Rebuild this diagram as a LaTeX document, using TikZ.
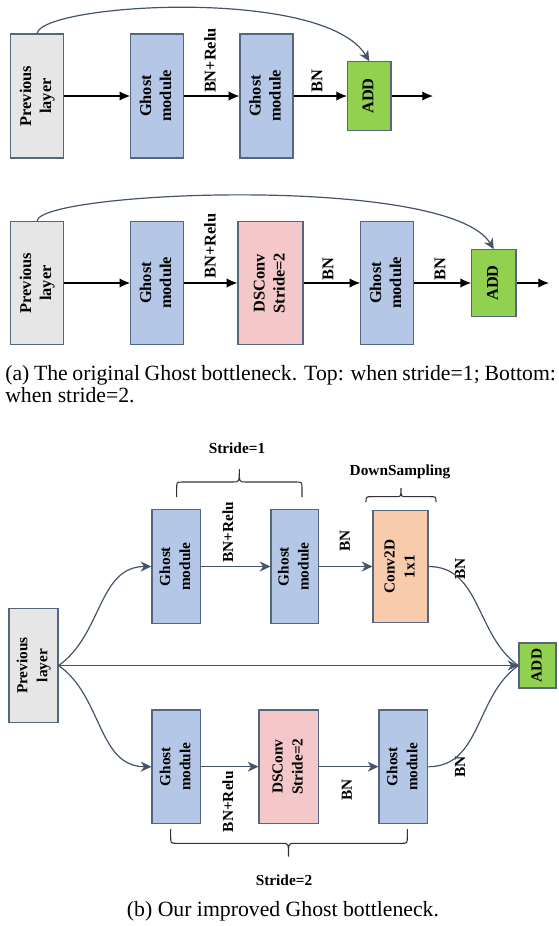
\documentclass[tikz,border=0pt]{standalone}
\usepackage{fontspec}
\usepackage{graphicx}
\setmainfont{Liberation Serif}
\usetikzlibrary{arrows.meta}
\definecolor{slate}{HTML}{44546A}
\definecolor{bordc}{HTML}{56667E}
\definecolor{grayf}{HTML}{E7E6E6}
\definecolor{ghostf}{HTML}{B4C7E7}
\definecolor{addf}{HTML}{92D050}
\definecolor{dsf}{HTML}{F4C7C9}
\definecolor{convf}{HTML}{F8CBAD}
\newcommand\fa{\fontsize{12.3}{15}\selectfont\bfseries}
\newcommand\fb{\fontsize{11.5}{15}\selectfont\bfseries}
\newcommand\fcap{\fontsize{16.3}{19}\selectfont}
\newcommand\vt[1]{\rotatebox{90}{\begin{tabular}{@{}c@{}}#1\end{tabular}}}
\tikzset{
  box/.style={draw=bordc, line width=0.9pt, inner sep=0pt},
  prevbox/.style={box, fill=grayf},
  ghostbox/.style={box, fill=ghostf},
  addbox/.style={box, fill=addf},
  dsbox/.style={box, fill=dsf},
  convbox/.style={box, fill=convf},
  lab/.style={rotate=90, inner sep=0pt},
  plain/.style={inner sep=0pt},
  arA/.style={draw=black, line width=0.9pt, -{Latex[length=8pt,width=7pt]}},
  arS/.style={draw=slate, line width=0.9pt, -{Stealth[length=8pt,width=7.5pt,inset=2.5pt]}},
  ln/.style={draw=slate, line width=0.9pt},
  brc/.style={draw=black!80, line width=0.8pt}
}
\begin{document}
\begin{tikzpicture}[x=0.75pt,y=-0.75pt]
\useasboundingbox (0,0) rectangle (559,926);

% ---------------- (a) top ----------------
\begin{scope}[font=\fa]
\node[prevbox, minimum width=39.6pt, minimum height=93pt] (p1) at (37.1,96) {\vt{Previous\\layer}};
\node[ghostbox, minimum width=39.6pt, minimum height=93pt] (g1) at (157.2,96) {\vt{Ghost\\module}};
\node[ghostbox, minimum width=39.75pt, minimum height=93pt] (g2) at (266.5,96) {\vt{Ghost\\module}};
\node[addbox, minimum width=32.55pt, minimum height=51.2pt] (add1) at (369.3,96) {\vt{ADD}};
\coordinate (out1) at (433,96);
\node[lab] (l1) at (210,60.5) {BN+Relu};
\node[lab] (l2) at (317,81) {BN};
\draw[arA] (p1.east) -- (g1.west);
\draw[arA] (g1.east) -- (g2.west);
\draw[arA] (g2.east) -- (add1.west);
\draw[arA] (add1.east) -- (out1);
\draw[arS] (p1.north) .. controls +(5,-30) and +(-45,-75) .. (add1.north);

% ---------------- (a) bottom ----------------
\node[prevbox, minimum width=39.6pt, minimum height=92.5pt] (p2) at (37.1,283) {\vt{Previous\\layer}};
\node[ghostbox, minimum width=39.6pt, minimum height=92.5pt] (g3) at (157.2,283) {\vt{Ghost\\module}};
\node[dsbox, minimum width=48.75pt, minimum height=92.5pt] (ds1) at (270.5,283) {\vt{DSConv\\Stride=2}};
\node[ghostbox, minimum width=39.5pt, minimum height=92.5pt] (g4) at (387.2,283) {\vt{Ghost\\module}};
\node[addbox, minimum width=33.15pt, minimum height=49.7pt] (add2) at (493.8,283) {\vt{ADD}};
\coordinate (out2) at (549,283);
\node[lab] (l3) at (210,245.8) {BN+Relu};
\node[lab] (l4) at (328,269) {BN};
\node[lab] (l5) at (440,269) {BN};
\draw[arA] (p2.east) -- (g3.west);
\draw[arA] (g3.east) -- (ds1.west);
\draw[arA] (ds1.east) -- (g4.west);
\draw[arA] (g4.east) -- (add2.west);
\draw[arA] (add2.east) -- (out2);
\draw[arS] (p2.north) .. controls +(5,-30) and +(-45,-75) .. (add2.north);
\end{scope}

\node[plain, anchor=west, font=\fcap] (capa1) at (5,375) {\makebox[413pt][s]{(a) The original Ghost bottleneck. Top: when stride=1; Bottom:}};
\node[plain, anchor=west, font=\fcap] (capa2) at (5,395) {when stride=2.};

% ---------------- (b) ----------------
\begin{scope}[font=\fb]
\node[plain] (s1) at (237,448) {Stride=1};
\node[plain] (dsl) at (400,471.7) {DownSampling};
\node[ghostbox, minimum width=36.4pt, minimum height=85.5pt] (g5) at (176.2,566.5) {\vt{Ghost\\module}};
\node[ghostbox, minimum width=35.55pt, minimum height=85.5pt] (g6) at (294.7,566.5) {\vt{Ghost\\module}};
\node[convbox, minimum width=41.25pt, minimum height=84pt] (conv) at (400.5,566.5) {\vt{Conv2D\\1x1}};
\node[lab] (l6) at (228,532.5) {BN+Relu};
\node[lab] (l7) at (345,541) {BN};
\node[lab] (l8) at (460,569) {BN};

\node[prevbox, minimum width=36.75pt, minimum height=85.3pt] (p3) at (33.5,665.5) {\vt{Previous\\layer}};
\node[addbox, minimum width=27.75pt, minimum height=33.75pt] (add3) at (537.5,665.5) {\vt{ADD}};

\node[ghostbox, minimum width=36.5pt, minimum height=85pt] (g7) at (176.4,766.7) {\vt{Ghost\\module}};
\node[dsbox, minimum width=44.55pt, minimum height=85pt] (ds2) at (288.7,766.7) {\vt{DSConv\\Stride=2}};
\node[ghostbox, minimum width=36.6pt, minimum height=85pt] (g8) at (403.4,766.7) {\vt{Ghost\\module}};
\node[lab] (l9) at (228,801.7) {BN+Relu};
\node[lab] (l10) at (347,790) {BN};
\node[lab] (l11) at (460,766.7) {BN};
\node[plain] (s2) at (284,880) {Stride=2};

\draw[arS] (g5.east) -- (g6.west);
\draw[arS] (g6.east) -- (conv.west);
\draw[arS] (g7.east) -- (ds2.west);
\draw[arS] (ds2.east) -- (g8.west);
\draw[arS] (p3.east) to[out=35,in=180] (g5.west);
\draw[arS] (p3.east) to[out=-35,in=180] (g7.west);
\draw[ln] (conv.east) to[out=0,in=145] (add3.west);
\draw[ln] (g8.east) to[out=0,in=215] (add3.west);
\draw[arS] (p3.east) -- (add3.west);
\end{scope}

% braces
\draw[brc] (176.7,497) -- (176.7,488) .. controls (176.7,482) .. (182.7,482) -- (233.3,482)
  .. controls (239.3,482) .. (239.3,469) .. controls (239.3,482) .. (245.3,482) -- (296,482)
  .. controls (302,482) .. (302,488) -- (302,497);
\draw[brc] (366,502) .. controls (366,496.7) .. (371,496.7) -- (396,496.7)
  .. controls (401,496.7) .. (401,488) .. controls (401,496.7) .. (406,496.7) -- (431,496.7)
  .. controls (436,496.7) .. (436,502);
\draw[brc] (170.7,829) -- (170.7,837) .. controls (170.7,843.3) .. (176.7,843.3) -- (282.5,843.3)
  .. controls (288.5,843.3) .. (288.5,856.7) .. controls (288.5,843.3) .. (294.5,843.3) -- (401.3,843.3)
  .. controls (407.3,843.3) .. (407.3,837) -- (407.3,829);

\node[plain, font=\fcap] (capb) at (283,911) {(b) Our improved Ghost bottleneck.};
\end{tikzpicture}
\end{document}
